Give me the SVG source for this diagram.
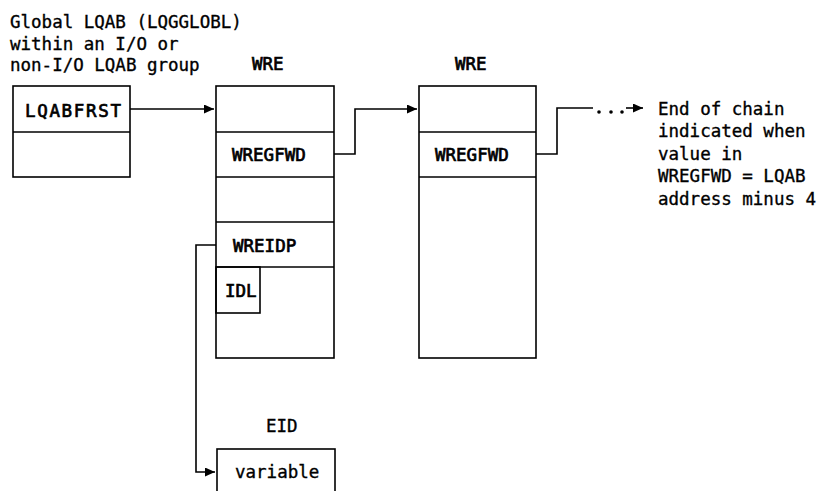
<svg xmlns="http://www.w3.org/2000/svg" width="822" height="491" viewBox="0 0 822 491">
<defs>
<style>
.t{font-family:"DejaVu Sans Mono","Liberation Mono",monospace;font-size:17.5px;fill:#000;stroke:#000;stroke-width:0.35}
.b{stroke-width:0.7}
.box{fill:none;stroke:#000;stroke-width:1.6}
.ln{fill:none;stroke:#000;stroke-width:1.6}
</style>
<marker id="ah" markerWidth="10" markerHeight="9" refX="10" refY="4.5" orient="auto" markerUnits="userSpaceOnUse">
<path d="M0,0 L10,4.5 L0,9 Z" fill="#000"/>
</marker>
</defs>
<rect width="822" height="491" fill="#fff"/>
<g id="title">
<text class="t" x="10" y="28">Global LQAB (LQGGLOBL)</text>
<text class="t" x="10" y="50">within an I/O or</text>
<text class="t" x="10" y="71">non-I/O LQAB group</text>
</g>
<g id="lqab">
<rect class="box" x="13" y="86" width="117" height="91"/>
<line class="box" x1="13" y1="132" x2="130" y2="132"/>
<text class="t b" x="25" y="117" textLength="96">LQABFRST</text>
</g>
<g id="wre1">
<text class="t b" x="252" y="70">WRE</text>
<rect class="box" x="216" y="86" width="118" height="272"/>
<line class="box" x1="216" y1="132" x2="334" y2="132"/>
<line class="box" x1="216" y1="177" x2="334" y2="177"/>
<line class="box" x1="216" y1="222" x2="334" y2="222"/>
<line class="box" x1="216" y1="267" x2="334" y2="267"/>
<text class="t b" x="232" y="161">WREGFWD</text>
<text class="t b" x="233" y="252">WREIDP</text>
</g>
<g id="idl">
<rect class="box" x="216" y="267" width="44" height="46"/>
<text class="t b" x="225" y="297">IDL</text>
</g>
<g id="wre2">
<text class="t b" x="455" y="70">WRE</text>
<rect class="box" x="419" y="86" width="117" height="272"/>
<line class="box" x1="419" y1="132" x2="536" y2="132"/>
<line class="box" x1="419" y1="177" x2="536" y2="177"/>
<text class="t b" x="435" y="161">WREGFWD</text>
</g>
<g id="eid">
<text class="t" x="266" y="432">EID</text>
<rect class="box" x="217" y="449" width="118" height="60"/>
<text class="t" x="235" y="478">variable</text>
</g>
<g id="endnote">
<text class="t" x="658" y="115">End of chain</text>
<text class="t" x="658" y="137">indicated when</text>
<text class="t" x="658" y="160">value in</text>
<text class="t" x="658" y="182">WREGFWD = LQAB</text>
<text class="t" x="658" y="205">address minus 4</text>
</g>
<g id="connectors">
<polyline class="ln" points="130,109 214,109" marker-end="url(#ah)"/>
<polyline class="ln" points="334,154 355,154 355,109 417,109" marker-end="url(#ah)"/>
<polyline class="ln" points="536,154 557,154 557,108 593,108"/>
<circle cx="599" cy="112" r="1.8" fill="#000"/>
<circle cx="611" cy="112" r="1.8" fill="#000"/>
<circle cx="622" cy="112" r="1.8" fill="#000"/>
<polyline class="ln" points="626,108 643,108" marker-end="url(#ah)"/>
<polyline class="ln" points="216,245 196,245 196,472 215,472" marker-end="url(#ah)"/>
</g>
</svg>
